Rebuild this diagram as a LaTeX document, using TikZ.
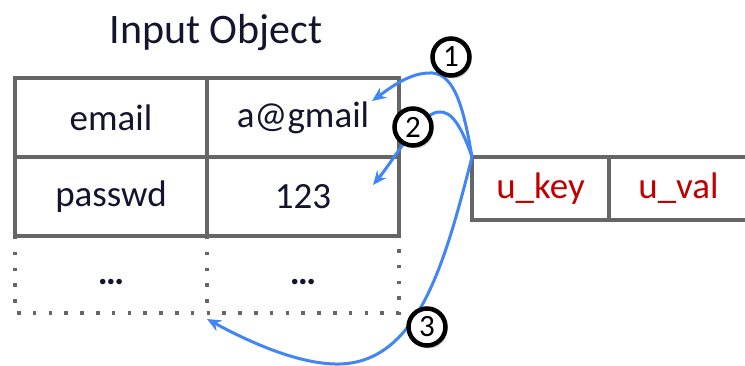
\documentclass[tikz,border=0pt]{standalone}
\usepackage{fontspec}
\setmainfont{Carlito}
\usetikzlibrary{positioning,arrows.meta,shadows}
\definecolor{grid}{HTML}{666666}
\definecolor{ink}{HTML}{14142E}
\definecolor{link}{HTML}{4285F4}
\definecolor{keyred}{HTML}{C00000}
\tikzset{cell/.style={draw=grid,line width=3.5pt,outer sep=0pt,inner sep=0pt,minimum width=192pt,minimum height=79pt,text=ink,font=\fontsize{37}{40}\selectfont},
  dcell/.style={cell,draw=none,minimum height=77pt},
  kcell/.style={cell,minimum width=137pt,minimum height=63pt,text=keyred},
  num/.style={circle,draw=black,line width=4.5pt,fill=white,minimum size=37pt,inner sep=0pt,font=\fontsize{31}{34}\selectfont,drop shadow={shadow xshift=2pt,shadow yshift=-3pt,opacity=0.35}},
  link/.style={draw=link,line width=3pt,-{Stealth[length=14pt,width=12pt]}}}

\begin{document}
\begin{tikzpicture}[x=1pt,y=-1pt]
    \useasboundingbox (0,0) rectangle (745,366);
    \node[text=ink,font=\fontsize{42}{46}\selectfont] (t) at (216,33) {Input Object};

    \node[cell] (a) at (111,117.5) {email};
    \node[cell,right=0pt of a] (b) {a@gmail};
    \node[cell,below=0pt of a] (c) {passwd};
    \node[cell,right=0pt of c] (d) {123};
    \node[dcell,below=0pt of c] (e) {};
    \node[dcell,right=0pt of e] (f) {};
    \node[text=ink,font=\fontsize{37}{40}\bfseries] (e1) at ([yshift=-8pt]e.center) {…};
    \node[text=ink,font=\fontsize{37}{40}\bfseries] (f1) at ([yshift=-8pt]f.center) {…};

    \node[kcell] (k) at (540.5,188.5) {u\_key};
    \node[kcell,minimum width=139pt,right=0pt of k] (v) {u\_val};

    % dotted rows
    \draw[grid,line width=3.5pt,dash pattern=on 3.5pt off 12.3pt] (e.north west) -- (e.south west) -- (f.south east) -- (f.north east);
    \draw[grid,line width=3.5pt,dash pattern=on 3.5pt off 12.3pt] (e.north east) -- (e.south east);

    \coordinate (p) at (k.north west);
    \coordinate (t1) at (372,101);
    \coordinate (t2) at (373,185);
    \coordinate (t3) at (207,319);

    \draw[link] (p) .. controls (464,110) and (455,74) .. (432,73) .. controls (410,72) and (390,88) .. (t1);
    \draw[link] (p) .. controls (462,128) and (452,110) .. (438,112) .. controls (420,114) and (395,158) .. (t2);
    \draw[link] (p) .. controls (445,262) and (418,366) .. (335,364) .. controls (292,363) and (240,337) .. (t3);

    \node[num] (n1) at (451,57) {1};
    \node[num] (n2) at (413,127) {2};
    \node[num] (n3) at (427,327) {3};
\end{tikzpicture}
\end{document}
